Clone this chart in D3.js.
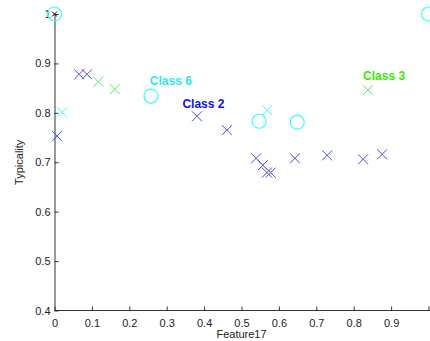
<!DOCTYPE html>
<html>
<head>
<meta charset="utf-8">
<script src="https://cdn.jsdelivr.net/npm/d3@7"></script>
<style>
  body { margin: 0; background: #fff; }
  text { font-family: "Liberation Sans", Arial, sans-serif; }
</style>
</head>
<body>
<script>
// data
const blueX = [0.007, 0.066, 0.087, 0.381, 0.461, 0.539, 0.557, 0.568, 0.578, 0.643, 0.729, 0.825, 0.876]
const blueY = [0.753, 0.878, 0.878, 0.793, 0.765, 0.708, 0.694, 0.679, 0.679, 0.708, 0.714, 0.706, 0.716]
const cyanCrossX = [0.02, 0.569]
const cyanCrossY = [0.801, 0.805]
const cyanCircleX = [0, 0.258, 0.547, 0.649, 1.0]
const cyanCircleY = [1.0, 0.834, 0.783, 0.781, 1.0]
const greenX = [0.117, 0.161, 0.838]
const greenY = [0.863, 0.848, 0.846]
const blackX = [0]
const blackY = [1.0]
const labels = [
  { text: 'Class 6', x: 0.255, y: 0.857, color: '#22eeee' },
  { text: 'Class 2', x: 0.342, y: 0.81, color: '#1010ee' },
  { text: 'Class 3', x: 0.825, y: 0.866, color: '#33ee00' }
]
const xTicks = [0, 0.1, 0.2, 0.3, 0.4, 0.5, 0.6, 0.7, 0.8, 0.9, 1]
const yTicks = [0.4, 0.5, 0.6, 0.7, 0.8, 0.9, 1]

const W = 430, H = 341
let svg = d3.select('body')
    .append('svg')
    .attr('width', W)
    .attr('height', H)

let x = d3.scaleLinear().domain([0, 1]).range([54.5, 428.5])
let y = d3.scaleLinear().domain([0.4, 1]).range([310.5, 14])

// axes
let gx = svg.append('g')
    .attr('transform', `translate(0,${y(0.4)})`)
    .call(d3.axisBottom(x).tickValues(xTicks).tickSizeInner(-4).tickSizeOuter(0)
        .tickFormat(d => d === 1 ? '' : d3.format('')(d)))
gx.select('.domain').attr('d', `M${x(0)},0H${W}`)
gx.selectAll('text').attr('y', 9).attr('font-size', 11).attr('fill', '#222')

let gy = svg.append('g')
    .attr('transform', `translate(${x(0)},0)`)
    .call(d3.axisLeft(y).tickValues(yTicks).tickSizeInner(-4).tickSizeOuter(0)
        .tickFormat(d3.format('')))
gy.selectAll('text').attr('x', -4).attr('font-size', 11).attr('fill', '#222')

svg.selectAll('.domain').attr('stroke', '#333')
svg.selectAll('.tick line').attr('stroke', '#333')

// axis labels
svg.append('text')
    .text('Feature17')
    .attr('x', x(0.5))
    .attr('y', 338)
    .attr('text-anchor', 'middle')
    .attr('font-size', 11)
    .attr('fill', '#222')
svg.append('text')
    .text('Typicality')
    .attr('transform', `translate(23,${y(0.7)}) rotate(-90)`)
    .attr('text-anchor', 'middle')
    .attr('font-size', 11)
    .attr('fill', '#222')

// markers
function crosses(xs, ys, color, s) {
  svg.append('g').selectAll('path')
      .data(xs.map((d, i) => [d, ys[i]]))
      .enter()
      .append('path')
      .attr('d', d => {
        let px = x(d[0]), py = y(d[1])
        return `M${px - s},${py - s}L${px + s},${py + s}M${px - s},${py + s}L${px + s},${py - s}`
      })
      .attr('stroke', color)
      .attr('stroke-width', 1)
      .attr('fill', 'none')
}

function circles(xs, ys, color) {
  svg.append('g').selectAll('circle')
      .data(xs.map((d, i) => [d, ys[i]]))
      .enter()
      .append('circle')
      .attr('cx', d => x(d[0]))
      .attr('cy', d => y(d[1]))
      .attr('r', 7)
      .attr('stroke', color)
      .attr('stroke-width', 1.2)
      .attr('fill', 'none')
}

crosses(blueX, blueY, '#4848ff', 5)
crosses(cyanCrossX, cyanCrossY, '#33ffff', 5)
crosses(greenX, greenY, '#55ee55', 5)
circles(cyanCircleX, cyanCircleY, '#33ffff')
crosses(blackX, blackY, '#000', 2.5)

// class labels
svg.append('g').selectAll('text')
    .data(labels)
    .enter()
    .append('text')
    .text(d => d.text)
    .attr('x', d => x(d.x))
    .attr('y', d => y(d.y))
    .attr('fill', d => d.color)
    .attr('font-size', 12)
    .attr('font-weight', 'bold')
</script>
</body>
</html>
